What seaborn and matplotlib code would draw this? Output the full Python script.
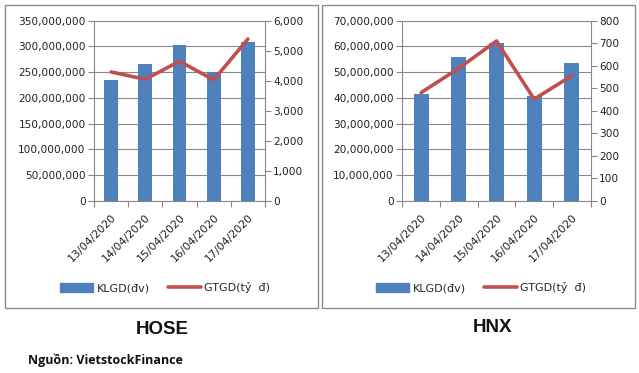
import matplotlib
matplotlib.use("Agg")
import matplotlib.pyplot as plt
import seaborn as sns
import numpy as np
import pandas as pd
from matplotlib.ticker import FuncFormatter, FixedLocator
from matplotlib.patches import Rectangle, Patch
from matplotlib.lines import Line2D

dates = ["13/04/2020", "14/04/2020", "15/04/2020", "16/04/2020", "17/04/2020"]
hose_vol = [235e6, 266e6, 303e6, 250e6, 308e6]
hose_val = [4295, 4050, 4650, 4030, 5390]
hnx_vol = [41.6e6, 55.9e6, 61.5e6, 40.8e6, 53.7e6]
hnx_val = [481, 589, 710, 452, 556]

BLUE = "#4F81BD"
RED = "#C0504D"
GRID = "#878787"

sns.set_theme(style="white")
plt.rcParams["font.family"] = ["DejaVu Sans"]

fig = plt.figure(figsize=(6.39, 3.73), dpi=100)
W, H = 639, 373

def fx(px):
    return px / W

def fy(py):
    return 1 - py / H

comma = FuncFormatter(lambda v, p: f"{int(round(v)):,}")

def panel(x0, x1, ax_l, ax_r, vol, val, lmax, lstep, rmax, rstep, leg_x, title, title_x, title_y):
    fig.patches.append(Rectangle((fx(x0), fy(308)), fx(x1) - fx(x0), fy(5) - fy(308),
                                 transform=fig.transFigure, fill=False,
                                 edgecolor="#8c8c8c", linewidth=1.0))
    ax = fig.add_axes([fx(ax_l), fy(201), fx(ax_r) - fx(ax_l), fy(20.7) - fy(201)])
    df = pd.DataFrame({"date": dates, "vol": vol, "val": val})
    sns.barplot(data=df, x="date", y="vol", ax=ax, color=BLUE, width=0.4,
                saturation=1, linewidth=0, edgecolor=BLUE, zorder=3)
    ax.set_ylim(0, lmax)
    ax.set_yticks(np.arange(0, lmax + 1, lstep))
    ax.yaxis.set_major_formatter(comma)
    ax.grid(axis="y", color=GRID, linewidth=0.8, zorder=0)
    ax.set_axisbelow(True)
    ax.set_xlabel("")
    ax.set_ylabel("")
    for s in ["top", "right"]:
        ax.spines[s].set_visible(False)
    for s in ["left", "bottom"]:
        ax.spines[s].set_color(GRID)
        ax.spines[s].set_linewidth(0.8)
    ax2 = ax.twinx()
    sns.pointplot(data=df, x="date", y="val", ax=ax2, color=RED, markers="",
                  linewidth=2.6, errorbar=None)
    ax2.set_ylim(0, rmax)
    ax2.set_yticks(np.arange(0, rmax + 1, rstep))
    ax2.yaxis.set_major_formatter(comma)
    ax2.set_ylabel("")
    ax2.set_xlabel("")
    for s in ["top", "left", "bottom"]:
        ax2.spines[s].set_visible(False)
    ax2.spines["right"].set_color(GRID)
    ax2.spines["right"].set_linewidth(0.8)
    ax2.tick_params(axis="y", length=4, color=GRID, width=0.8, labelsize=7.6,
                    labelcolor="#222222", right=True, pad=2)
    ax2.tick_params(axis="x", which="both", bottom=False, labelbottom=False)
    ax.set_xlim(-0.5, 4.5)
    ax.xaxis.set_major_locator(FixedLocator(range(5)))
    ax.set_xticklabels(dates, rotation=45, ha="right", rotation_mode="anchor",
                       fontsize=7.9, color="#222222")
    ax.xaxis.set_minor_locator(FixedLocator(np.arange(-0.5, 5, 1)))
    ax.tick_params(axis="x", which="major", length=0, pad=8, labelbottom=True)
    ax.tick_params(axis="x", which="minor", length=4, color=GRID, width=0.8, bottom=True)
    ax.tick_params(axis="y", length=4, color=GRID, width=0.8, labelsize=7.6,
                   labelcolor="#222222", left=True, pad=2)
    handles = [Patch(facecolor=BLUE, edgecolor=BLUE),
               Line2D([0], [0], color=RED, linewidth=2.6)]
    fig.legend(handles, ["KLGD(đv)", "GTGD(tỷ  đ)"], loc="center left",
               bbox_to_anchor=(fx(leg_x), fy(288)), ncol=2, frameon=False,
               fontsize=8, handlelength=3.0, handleheight=0.8,
               handletextpad=0.3, columnspacing=1.6, borderaxespad=0, borderpad=0)
    fig.text(fx(title_x), fy(title_y), title, ha="center", va="center",
             fontsize=13.5, fontweight="bold",
             family=["Liberation Sans", "DejaVu Sans"], color="#111111")

panel(5, 318, 94, 265, hose_vol, hose_val, 350e6, 50e6, 6000, 1000, 60, "HOSE", 162, 330)
panel(322, 635, 402.3, 590.7, hnx_vol, hnx_val, 70e6, 10e6, 800, 100, 376, "HNX", 492, 327)

fig.text(fx(28), fy(360), "Nguồn: VietstockFinance", ha="left", va="center",
         fontsize=9, fontweight="bold", family=["Open Sans", "DejaVu Sans"], color="#111111")

fig.savefig("out.png", dpi=100)
